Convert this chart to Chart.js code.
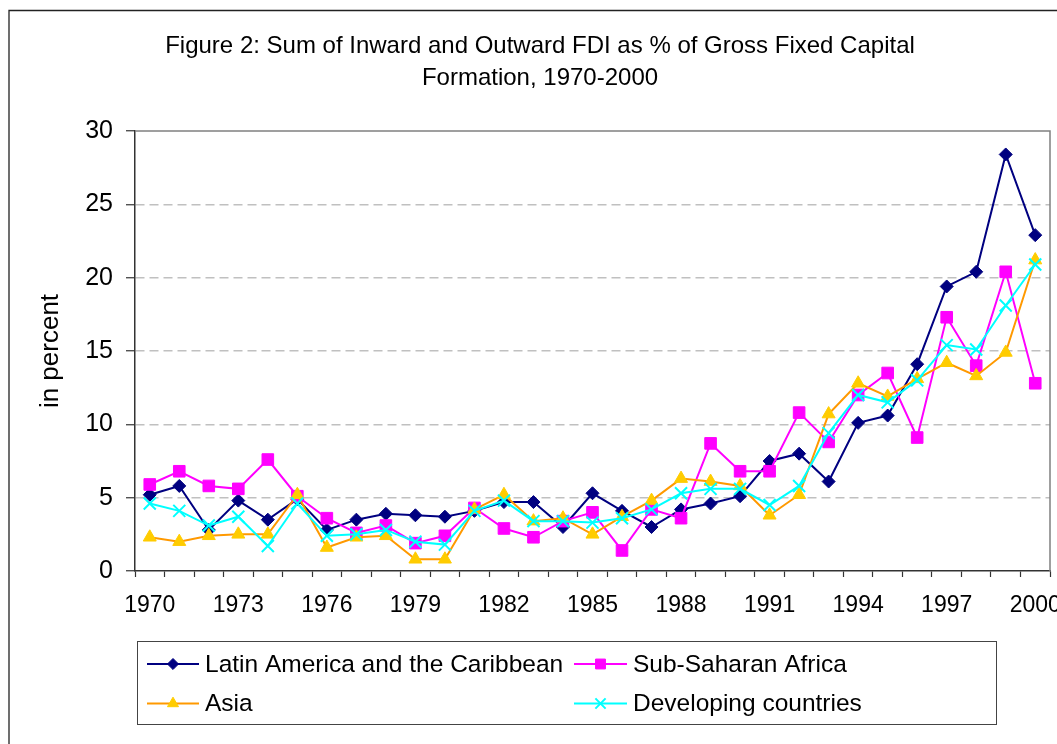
<!DOCTYPE html>
<html>
<head>
<meta charset="utf-8">
<title>FDI as % of GFCF</title>
<script src="https://cdn.jsdelivr.net/npm/chart.js@4.4.0/dist/chart.umd.min.js"></script>
<style>
  body { margin: 0; background: #fff; }
  #wrap { width: 1057px; height: 744px; }
</style>
</head>
<body>
<div id="wrap"><canvas id="myCanvas" width="1057" height="744"></canvas></div>
<script>
// data
let anni = ["1970","1971","1972","1973","1974","1975","1976","1977","1978","1979",
            "1980","1981","1982","1983","1984","1985","1986","1987","1988","1989",
            "1990","1991","1992","1993","1994","1995","1996","1997","1998","1999","2000"]
let latinAmerica = [5.2, 5.8, 2.8, 4.8, 3.5, 4.9, 2.8, 3.5, 3.9, 3.8, 3.7, 4.1, 4.7, 4.7, 3.0, 5.3, 4.1, 3.0, 4.2, 4.6, 5.1, 7.5, 8.0, 6.1, 10.1, 10.6, 14.1, 19.4, 20.4, 28.4, 22.9]
let subSahara = [5.9, 6.8, 5.8, 5.6, 7.6, 5.1, 3.6, 2.6, 3.1, 1.9, 2.4, 4.3, 2.9, 2.3, 3.4, 4.0, 1.4, 4.2, 3.6, 8.7, 6.8, 6.8, 10.8, 8.8, 12.0, 13.5, 9.1, 17.3, 14.0, 20.4, 12.8]
let asia = [2.3, 2.0, 2.4, 2.5, 2.5, 5.2, 1.6, 2.3, 2.4, 0.8, 0.8, 4.2, 5.2, 3.4, 3.6, 2.5, 3.7, 4.8, 6.3, 6.1, 5.8, 3.8, 5.2, 10.7, 12.8, 11.9, 13.1, 14.2, 13.3, 14.9, 21.2]
let developing = [4.6, 4.1, 3.1, 3.7, 1.7, 4.6, 2.4, 2.5, 2.8, 2.0, 1.8, 4.1, 4.8, 3.4, 3.4, 3.3, 3.6, 4.2, 5.3, 5.6, 5.6, 4.5, 5.8, 9.4, 12.0, 11.5, 13.0, 15.4, 15.1, 18.1, 20.9]
let yTicks = [0, 5, 10, 15, 20, 25, 30]

let titolo = ["Figure 2: Sum of Inward and Outward FDI as % of Gross Fixed Capital", "Formation, 1970-2000"]
let font = "'Liberation Sans', Arial, sans-serif"

// frame, title, plot border and legend are drawn by hand (Excel look)
const decorazioni = {
  id: "decorazioni",
  beforeDatasetsDraw(chart) {
    const ctx = chart.ctx
    const a = chart.chartArea
    ctx.save()
    ctx.strokeStyle = "#808080"
    ctx.lineWidth = 1.5
    ctx.beginPath()
    ctx.moveTo(a.left, a.top)
    ctx.lineTo(a.right, a.top)
    ctx.lineTo(a.right, a.bottom)
    ctx.stroke()
    ctx.restore()
  },
  afterDraw(chart) {
    const ctx = chart.ctx
    ctx.save()
    // outer frame
    ctx.strokeStyle = "#222"
    ctx.lineWidth = 1.3
    ctx.beginPath()
    ctx.moveTo(9, 760)
    ctx.lineTo(9, 10.5)
    ctx.lineTo(1070, 10.5)
    ctx.stroke()

    // title
    ctx.fillStyle = "#000"
    ctx.font = "24px " + font
    ctx.textAlign = "center"
    ctx.textBaseline = "alphabetic"
    ctx.fillText(titolo[0], 540, 53)
    ctx.fillText(titolo[1], 540, 85)

    // legend
    ctx.strokeStyle = "#444"
    ctx.lineWidth = 1
    ctx.strokeRect(137.5, 641.5, 859, 83)
    let colonne = [{x1: 147, x2: 199, tx: 205}, {x1: 574, x2: 627, tx: 633}]
    let righe = [664, 703.5]
    chart.data.datasets.forEach((ds, i) => {
      let c = colonne[i % 2]
      let y = righe[Math.floor(i / 2)]
      ctx.strokeStyle = ds.borderColor
      ctx.lineWidth = 2
      ctx.beginPath()
      ctx.moveTo(c.x1, y)
      ctx.lineTo(c.x2, y)
      ctx.stroke()
      ctx.fillStyle = ds.pointBackgroundColor
      ctx.strokeStyle = ds.pointBorderColor
      ctx.lineWidth = ds.pointBorderWidth
      Chart.helpers.drawPoint(ctx, {
        pointStyle: ds.pointStyle,
        radius: ds.pointRadius * 0.85,
        rotation: 0,
        borderWidth: ds.pointBorderWidth
      }, (c.x1 + c.x2) / 2, y)
      ctx.fillStyle = "#000"
      ctx.font = "24.5px " + font
      ctx.textAlign = "left"
      ctx.textBaseline = "middle"
      ctx.fillText(ds.label, c.tx, y + 1)
    })
    ctx.restore()
  }
}

creaGrafico()

function creaGrafico() {
  let myCanvas = document.querySelector("#myCanvas").getContext("2d")

  new Chart(myCanvas, {
    type: "line",
    data: {
      labels: anni,
      datasets: [
        {
          label: "Latin America and the Caribbean",
          data: latinAmerica,
          borderColor: "#000080",
          borderWidth: 2,
          pointStyle: "rectRot",
          pointRadius: 6.5,
          pointBackgroundColor: "#000080",
          pointBorderColor: "#000080",
          pointBorderWidth: 1,
          order: 4
        },
        {
          label: "Sub-Saharan Africa",
          data: subSahara,
          borderColor: "#FF00FF",
          borderWidth: 2,
          pointStyle: "rect",
          pointRadius: 8.2,
          pointBackgroundColor: "#FF00FF",
          pointBorderColor: "#FF00FF",
          pointBorderWidth: 1,
          order: 3
        },
        {
          label: "Asia",
          data: asia,
          borderColor: "#FF9900",
          borderWidth: 2,
          pointStyle: "triangle",
          pointRadius: 7.5,
          pointBackgroundColor: "#FFCC00",
          pointBorderColor: "#FFCC00",
          pointBorderWidth: 1,
          order: 2
        },
        {
          label: "Developing countries",
          data: developing,
          borderColor: "#00FFFF",
          borderWidth: 2,
          pointStyle: "crossRot",
          pointRadius: 8.5,
          pointBackgroundColor: "#00FFFF",
          pointBorderColor: "#00FFFF",
          pointBorderWidth: 2,
          order: 1
        }
      ]
    },
    options: {
      responsive: false,
      animation: false,
      devicePixelRatio: 1,
      events: [],
      elements: { line: { tension: 0 } },
      layout: { autoPadding: false, padding: { top: 131, left: 0, right: 7, bottom: 113 } },
      plugins: {
        legend: { display: false },
        title: { display: false },
        tooltip: { enabled: false }
      },
      scales: {
        x: {
          type: "category",
          offset: true,
          afterFit(scale) {
            scale.height = 60
            scale.paddingLeft = 0
            scale.paddingRight = 0
          },
          grid: {
            offset: true,
            drawOnChartArea: false,
            drawTicks: true,
            tickLength: 6,
            tickColor: "#333",
            tickWidth: 1.2,
            tickBorderDash: []
          },
          border: { display: true, color: "#333", width: 1.5 },
          ticks: {
            autoSkip: false,
            maxRotation: 0,
            minRotation: 0,
            padding: 15,
            color: "#000",
            font: { family: font, size: 23 },
            callback: function (val, i) {
              return i % 3 === 0 ? anni[i] : ""
            }
          }
        },
        y: {
          min: 0,
          max: 30,
          afterBuildTicks(scale) {
            scale.ticks = yTicks.map(v => ({ value: v }))
          },
          afterFit(scale) {
            scale.width = 135
          },
          grid: {
            color: (c) => (c.tick && (c.tick.value === 0 || c.tick.value === 30)) ? "rgba(0,0,0,0)" : "#C0C0C0",
            lineWidth: 1.5,
            tickLength: 9,
            tickColor: "#333",
            tickWidth: 1.2,
            tickBorderDash: []
          },
          border: { display: true, color: "#333", width: 1.5, dash: [9, 5] },
          ticks: {
            padding: 13,
            color: "#000",
            font: { family: font, size: 25 }
          },
          title: {
            display: true,
            text: "in percent",
            color: "#000",
            font: { family: font, size: 26 },
            padding: { top: 35, bottom: 0 }
          }
        }
      }
    },
    plugins: [decorazioni]
  })
}
</script>
</body>
</html>
